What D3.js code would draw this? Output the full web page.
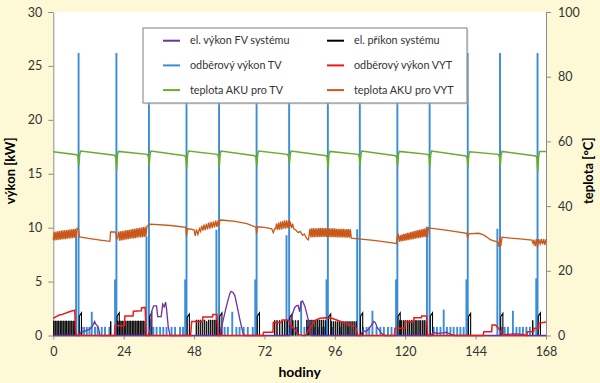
<!DOCTYPE html>
<html>
<head>
<meta charset="utf-8">
<script src="https://cdn.jsdelivr.net/npm/d3@7"></script>
<style>
  body { margin: 0; background: #fdf9d6; }
  svg { display: block; font-family: Lato, "Open Sans", sans-serif; }
</style>
</head>
<body>
<div id="chart"></div>
<script>
//=========Data=========//
// hours of the week (0-168)
var xTicks = [0, 24, 48, 72, 96, 120, 144, 168];
var yTicksLeft = [0, 5, 10, 15, 20, 25, 30];
var yTicksRight = [0, 20, 40, 60, 80, 100];

// el. výkon FV systému [kW]
var pvPower = [
  [0, 0], [8.9, 0], [9.3, 0.3], [10.2, 0.35], [11.2, 0.45], [12.5, 0.6], [13.4, 0.9], [14.1, 1.3], [14.6, 1.0], [15.3, 0.8], [15.9, 0],
  [32.5, 0], [33.0, 0.6], [33.5, 2.2], [34.2, 2.75], [35.2, 2.75], [35.6, 1.75], [36.8, 1.75], [37.3, 2.9], [37.8, 2.65], [38.3, 3.1], [38.6, 2.5], [39.2, 0.8], [39.8, 0],
  [56.8, 0], [57.9, 1.4], [59.1, 2.8], [60.2, 3.9], [60.6, 4.1], [61.3, 4.0], [61.9, 3.7], [62.7, 2.7], [63.6, 1.5], [64.7, 0.2], [65.3, 0],
  [80.6, 0], [81.2, 1.7], [82.3, 2.6], [82.9, 2.75], [83.5, 2.8], [84.0, 2.2], [84.5, 3.1], [85.0, 3.2], [85.8, 2.7], [86.9, 1.5], [87.5, 0.6], [88.0, 0],
  [104.8, 0], [105.6, 0.5], [106.5, 0.35], [107.5, 0.6], [108.3, 0.9], [109.3, 1.3], [109.8, 1.2], [110.5, 0.7], [111.2, 0.5], [111.9, 0.2], [113.0, 0],
  [128.8, 0], [129.5, 0.3], [131.0, 0.2], [133.0, 0.25], [134.0, 0.3], [135.5, 0.1], [137.0, 0],
  [153.0, 0], [154.5, 0.1], [157.0, 0.15], [160.0, 0.1], [161.5, 0], [168, 0]
];

// odběrový výkon TV [kW] - short draw-offs: [hour, kW]
var tvDraw = [
  [7.75, 9.2], [8.6, 26.2], [9.7, 0.8], [10.5, 0.8], [11.4, 0.8], [12.3, 0.8], [13.1, 2.2], [14.2, 0.8], [15.1, 0.8], [16.5, 0.8], [17.6, 0.8], [19.1, 0.8],
  [21.05, 5.2], [21.5, 26.2],
  [31.75, 9.2], [32.6, 26.2], [33.2, 0.8], [34.1, 0.8], [35.2, 0.8], [36.4, 0.8], [37.5, 0.8], [38.6, 0.8], [40.3, 0.8], [41.5, 0.8], [43.2, 0.8], [44.2, 0.8],
  [44.95, 5.2], [45.4, 26.2],
  [55.6, 9.8], [56.5, 26.2], [57.2, 0.8], [58.4, 0.8], [59.5, 0.8], [61.0, 2.2], [62.4, 0.8], [63.5, 0.8], [64.9, 0.8], [66.3, 0.8], [68.0, 0.8],
  [68.85, 5.2], [69.3, 26.2],
  [79.5, 9.3], [80.4, 26.2], [81.0, 0.8], [81.9, 0.8], [83.0, 0.8], [84.5, 3.2], [85.6, 0.8], [86.8, 0.8], [88.9, 0.8], [90.2, 0.8], [91.6, 0.8], [92.5, 0.8],
  [93.15, 5.2], [93.6, 26.2], [95.0, 0.8], [97.8, 0.8], [100.5, 0.8],
  [103.6, 9.85], [104.5, 26.2], [105.6, 0.8], [106.8, 0.8], [107.7, 0.8], [108.8, 2.3], [110.2, 0.8], [111.5, 0.8], [112.7, 0.8], [114.1, 0.8], [115.3, 0.8],
  [116.85, 5.2], [117.3, 26.2],
  [127.4, 10.1], [128.3, 26.2], [129.7, 0.8], [130.8, 0.8], [132.0, 0.8], [133.1, 2.4], [134.2, 0.8], [135.4, 0.8], [136.5, 0.8], [137.7, 0.8], [138.8, 0.8], [139.9, 0.8],
  [140.85, 5.2], [141.3, 26.2],
  [151.4, 9.9], [152.3, 26.2], [152.9, 0.8], [153.9, 0.8], [155.0, 0.8], [156.7, 2.3], [157.9, 0.8], [159.0, 0.8], [160.1, 0.8], [161.3, 0.8], [162.5, 0.8],
  [164.65, 5.3], [165.1, 26.2]
];

// el. příkon systému [kW] - heat pump on-cycles: [hour, kW]
var hpCycles = [
  [0.1, 1.35], [0.65, 1.35], [1.2, 1.35], [1.75, 1.35], [2.3, 1.35], [2.85, 1.35], [3.4, 1.35], [3.95, 1.35], [4.5, 1.35], [5.05, 1.35], [5.6, 1.35], [6.15, 1.35], [6.7, 1.35], [7.25, 1.35],
  [19.5, 1.3],
  [21.9, 1.35], [22.45, 1.35], [23.0, 1.35], [23.55, 1.35], [24.1, 1.35], [24.65, 1.35], [25.2, 1.35], [25.75, 1.35], [26.3, 1.35], [26.85, 1.35], [27.4, 1.35], [27.95, 1.35], [28.5, 1.35], [29.05, 1.35], [29.6, 1.35], [30.15, 1.35], [30.7, 1.35], [31.25, 1.35],
  [48.7, 1.44], [49.4, 1.44], [50.1, 1.44], [50.8, 1.44], [51.5, 1.44], [52.2, 1.3], [52.9, 1.44], [53.6, 1.44], [54.3, 1.44], [55.0, 1.44], [55.7, 1.44],
  [75.4, 1.4], [76.2, 1.4], [77.1, 1.4], [78.0, 1.4], [78.8, 1.4], [79.7, 1.4], [81.6, 1.4], [82.5, 1.4], [83.4, 1.4],
  [86.4, 1.44], [87.1, 1.44], [87.8, 1.44], [88.5, 1.44], [89.2, 1.44], [89.9, 1.44], [90.6, 1.44], [91.3, 1.44], [92.0, 1.44], [92.7, 1.4],
  [94.8, 1.3], [95.5, 1.3], [96.2, 1.3], [96.9, 1.3], [97.6, 1.3], [98.3, 1.3], [99.0, 1.3], [99.7, 1.3], [100.4, 1.3], [101.1, 1.3], [101.8, 1.3], [102.5, 1.3], [103.2, 1.3],
  [118.1, 1.4], [118.7, 1.4], [119.4, 1.4], [120.0, 1.4], [120.7, 1.4], [121.3, 1.4], [122.0, 1.4], [122.6, 1.4], [123.3, 1.4], [123.9, 1.4], [124.6, 1.4], [125.2, 1.4], [125.9, 1.4], [126.5, 1.4], [127.1, 1.4],
  [163.4, 1.4]
];

// el. příkon systému [kW] - peaks after each hot water draw-off: [hour, kW]
var hpBoost = [
  [8.85, 2.1], [21.75, 2.1], [32.85, 2.1], [45.65, 2.0], [56.75, 2.1], [69.55, 2.1], [80.65, 2.0],
  [93.85, 2.0], [104.75, 2.1], [117.55, 2.1], [128.55, 2.1], [141.55, 2.05], [152.55, 2.05], [165.35, 2.1]
];

// odběrový výkon VYT [kW]
var heatDemand = [
  [0, 1.6], [1, 1.75], [2, 1.9], [3, 1.95], [4, 2.05], [5, 2.15], [6, 2.25], [7.3, 2.35], [7.6, 0.4], [7.9, 0],
  [20.9, 0], [21.0, 0.9], [24.3, 0.9], [24.4, 1.8], [27.2, 1.8], [27.3, 2.25], [30.0, 2.3], [30.1, 2.55], [31.3, 2.6], [31.7, 0],
  [46.8, 0], [47.2, 1.3], [50.9, 1.3], [51.0, 1.72], [54.3, 1.72], [54.4, 1.95], [55.8, 1.95], [56.2, 0],
  [71.5, 0], [71.7, 0.3], [74.9, 0.3], [75.0, 1.2], [77.8, 1.2], [78.0, 1.44], [80.2, 1.44], [81.0, 0.9], [82.5, 0.5], [83.5, 0.1], [85.0, 0],
  [86.0, 0], [87.0, 0.5], [88.3, 1.0], [89.3, 1.4], [90.9, 1.6], [92.9, 1.65], [95.0, 1.6], [98.0, 1.3], [101.0, 1.0], [103.1, 0.82], [103.8, 0],
  [116.3, 0], [116.5, 0.67], [119.9, 0.67], [120.0, 1.28], [122.9, 1.28], [123.0, 1.65], [125.5, 1.65], [125.6, 1.8], [127.3, 1.8], [127.6, 0],
  [146.6, 0], [146.8, 0.35], [149.5, 0.35], [149.6, 0.97], [150.8, 0.97], [152.0, 0.6], [153.2, 0],
  [161.5, 0], [161.6, 0.35], [163.8, 0.35], [163.9, 0.67], [165.5, 0.67], [165.6, 1.13], [168, 1.25]
];

// teplota AKU pro TV [°C]
var tankTV = [
  [0, 56.8], [8.0, 55.9], [8.4, 55.3], [8.7, 52.6], [9.0, 56.0], [9.3, 57.0],
  [20.9, 55.7], [21.3, 55.0], [21.6, 51.2], [21.9, 56.0], [22.2, 56.9],
  [32.0, 56.0], [32.4, 55.4], [32.7, 52.6], [33.0, 56.0], [33.3, 57.0],
  [44.8, 55.6], [45.2, 55.0], [45.5, 51.6], [45.8, 56.0], [46.1, 57.0],
  [55.9, 56.0], [56.3, 55.4], [56.6, 52.0], [56.9, 56.0], [57.2, 57.0],
  [68.7, 55.6], [69.1, 55.0], [69.4, 52.4], [69.7, 56.0], [70.0, 57.0],
  [79.8, 56.0], [80.2, 55.4], [80.5, 53.2], [80.8, 56.0], [81.1, 57.0],
  [93.0, 55.6], [93.4, 55.0], [93.7, 51.7], [94.0, 56.0], [94.3, 56.9],
  [103.9, 56.0], [104.3, 55.4], [104.6, 52.5], [104.9, 56.0], [105.2, 57.0],
  [116.7, 55.6], [117.1, 55.0], [117.4, 52.5], [117.7, 56.0], [118.0, 56.9],
  [127.7, 56.0], [128.1, 55.4], [128.4, 52.0], [128.7, 56.0], [129.0, 57.0],
  [140.7, 55.5], [141.1, 54.9], [141.4, 52.0], [141.7, 56.0], [142.0, 56.8],
  [151.7, 56.0], [152.1, 55.4], [152.4, 52.2], [152.7, 56.0], [153.0, 56.9],
  [164.5, 55.5], [164.9, 54.9], [165.2, 50.5], [165.5, 55.5], [165.8, 56.9], [168, 56.9]
];

// teplota AKU pro VYT [°C]
var tankVYT = [
  [0, 29.5], [0.3, 32.0], [0.6, 29.4], [0.9, 32.1], [1.2, 29.5], [1.5, 32.2], [1.8, 29.6], [2.1, 32.3], [2.4, 29.6], [2.7, 32.4], [3.0, 29.7], [3.3, 32.5],
  [3.6, 29.8], [3.9, 32.5], [4.2, 29.8], [4.5, 32.6], [4.8, 29.9], [5.1, 32.7], [5.4, 30.0], [5.7, 32.8], [6.0, 30.0], [6.3, 32.8], [6.6, 30.1], [6.9, 32.9],
  [7.2, 30.2], [7.5, 33.0], [7.8, 30.3], [8.1, 33.1], [8.6, 32.8], [8.9, 30.5],
  [12.0, 30.0], [16.0, 29.5], [19.3, 29.1], [19.5, 32.0], [21.0, 32.0], [21.4, 31.5], [21.6, 29.6], [22.0, 30.5],
  [22.3, 32.1], [22.6, 29.3], [22.9, 32.2], [23.2, 29.4], [23.5, 32.3], [23.8, 29.5], [24.1, 32.4], [24.4, 29.6], [24.7, 32.5], [25.0, 29.7], [25.3, 32.6],
  [25.6, 29.8], [25.9, 32.7], [26.2, 29.9], [26.5, 32.8], [26.8, 30.0], [27.1, 32.9], [27.4, 30.0], [27.7, 33.0], [28.0, 30.1], [28.3, 33.1], [28.6, 30.2],
  [28.9, 33.2], [29.2, 30.3], [29.5, 33.3], [29.8, 30.3], [30.1, 33.4], [30.4, 30.4], [30.7, 33.5], [31.0, 30.5], [31.3, 33.6], [31.6, 30.6], [31.9, 33.7],
  [32.6, 34.3], [33.0, 34.4], [40.0, 34.0], [45.2, 33.4], [45.4, 30.6], [45.7, 33.0], [47.0, 32.9], [48.0, 32.6],
  [48.4, 30.8], [48.8, 32.8], [49.3, 31.2], [49.8, 33.0], [50.2, 32.2], [50.6, 33.9], [51.0, 32.4], [51.4, 34.3], [51.8, 32.6], [52.2, 34.6], [52.6, 32.8],
  [53.0, 34.9], [53.4, 33.0], [53.8, 35.1], [54.2, 33.2], [54.6, 35.3], [55.0, 33.4], [55.4, 35.5], [55.8, 33.6], [56.2, 35.6], [56.5, 33.9], [56.8, 35.6],
  [57.2, 35.7], [62.0, 35.3], [66.0, 34.6], [69.1, 33.5], [69.3, 31.4], [69.6, 33.6], [72.0, 33.4], [74.5, 33.0], [75.0, 31.8], [75.5, 33.0],
  [75.8, 33.0], [76.1, 34.6], [76.5, 32.6], [76.8, 34.9], [77.2, 32.7], [77.5, 35.2], [77.9, 32.8], [78.2, 35.4], [78.6, 33.0], [78.9, 35.6], [79.3, 33.0],
  [79.6, 35.6], [80.0, 33.2], [80.3, 35.7], [80.5, 33.5], [80.8, 35.2], [81.2, 33.2], [81.6, 34.6], [82.0, 33.0], [82.7, 32.6], [83.5, 31.8], [84.2, 32.2],
  [85.0, 31.0], [85.6, 31.4], [86.4, 30.0], [87.0, 29.6],
  [87.5, 33.0], [87.8, 30.3], [88.1, 33.1], [88.4, 30.4], [88.7, 33.1], [89.0, 30.4], [89.3, 33.1], [89.6, 30.4], [89.9, 33.1], [90.2, 30.4], [90.5, 33.2],
  [90.8, 30.5], [91.1, 33.2], [91.4, 30.5], [91.7, 33.2], [92.0, 30.5], [92.3, 33.2], [92.6, 30.5], [92.9, 33.2], [93.2, 30.5], [93.5, 33.2], [93.8, 30.4],
  [94.1, 33.1], [94.4, 30.4], [94.7, 33.1], [95.0, 30.4], [95.3, 33.1], [95.6, 30.4], [95.9, 33.1], [96.2, 30.4], [96.5, 33.0], [96.8, 30.3], [97.1, 33.0],
  [97.4, 30.3], [97.7, 33.0], [98.0, 30.3], [98.3, 33.0], [98.6, 30.3], [98.9, 33.0], [99.2, 30.3], [99.5, 32.9], [99.8, 30.2], [100.1, 32.9], [100.4, 30.2],
  [100.7, 32.9], [101.0, 30.2], [101.3, 32.8], [101.6, 30.1],
  [105.0, 29.8], [110.0, 29.3], [116.8, 28.5], [117.0, 28.4], [117.3, 30.8], [117.6, 31.2],
  [118.0, 29.0], [118.3, 31.0], [118.6, 29.1], [118.9, 31.2], [119.2, 29.2], [119.5, 31.4], [119.8, 29.3], [120.1, 31.5], [120.4, 29.4], [120.7, 31.7],
  [121.0, 29.5], [121.3, 31.8], [121.6, 29.6], [121.9, 32.0], [122.2, 29.7], [122.5, 32.1], [122.8, 29.8], [123.1, 32.3], [123.4, 29.9], [123.7, 32.4],
  [124.0, 30.0], [124.3, 32.6], [124.6, 30.1], [124.9, 32.7], [125.2, 30.2], [125.5, 32.8], [125.8, 30.3], [126.1, 33.0], [126.4, 30.4], [126.7, 33.1],
  [127.0, 30.5], [127.3, 33.2], [127.6, 30.5], [127.9, 33.3], [128.3, 33.2],
  [128.6, 33.2], [135.0, 32.4], [141.0, 31.6], [141.3, 30.0], [141.6, 31.4], [145.0, 31.6], [146.5, 31.2], [147.7, 30.5], [149.0, 29.6], [150.5, 29.2],
  [151.6, 28.9], [152.0, 27.4], [152.3, 30.4], [152.6, 27.6], [153.0, 30.4], [156.0, 30.1], [160.0, 29.8], [163.2, 29.5], [163.6, 28.4], [163.9, 29.6],
  [164.3, 27.6], [164.7, 29.8], [165.1, 27.2], [165.5, 29.8], [166.0, 28.3], [166.4, 29.9], [166.8, 28.2], [167.2, 29.8], [167.6, 28.0], [168, 29.8]
];

// legend (Excel order: two columns)
var legendNames = ["el. výkon FV systému", "odběrový výkon TV", "teplota AKU pro TV",
                   "el. příkon systému", "odběrový výkon VYT", "teplota AKU pro VYT"];
var legendColors = ["#7030a0", "#3b8dd6", "#6aac2c", "#000000", "#f01818", "#c9581a"];

//=========Define SVG Area and Margins=========//
var svgWidth = 600;
var svgHeight = 383;

var margin = {
  top: 12,
  right: 54,
  bottom: 47.5,
  left: 53.3
};

var width = svgWidth - margin.left - margin.right;
var height = svgHeight - margin.top - margin.bottom;

var svg = d3
  .select("#chart")
  .append("svg")
  .attr("width", svgWidth)
  .attr("height", svgHeight);

svg.append("rect")
  .attr("width", svgWidth)
  .attr("height", svgHeight)
  .attr("fill", "#fdf9d6");

var chartGroup = svg
  .append("g")
  .attr("transform", `translate(${margin.left}, ${margin.top})`);

// plot area
chartGroup.append("rect")
  .attr("width", width)
  .attr("height", height)
  .attr("fill", "#ffffff");

//======Scales======//
var xLinearScale = d3.scaleLinear().domain([0, 168]).range([0, width]);
var yLeftScale = d3.scaleLinear().domain([0, 30]).range([height, 0]);
var yRightScale = d3.scaleLinear().domain([0, 100]).range([height, 0]);

//======Series======//
var plot = chartGroup.append("g");

// hot water draw-offs (blue pulses)
plot.selectAll("rect.tv")
  .data(tvDraw)
  .enter()
  .append("rect")
  .attr("class", "tv")
  .attr("x", (d) => xLinearScale(d[0]) - 0.9)
  .attr("width", 1.9)
  .attr("y", (d) => yLeftScale(d[1]))
  .attr("height", (d) => height - yLeftScale(d[1]))
  .attr("fill", "#3b8dd6");

// heat pump cycles (black)
function pulsePath(data, widthH, slant) {
  var p = "";
  data.forEach(function (d) {
    var x0 = xLinearScale(d[0]);
    var x1 = xLinearScale(d[0] + widthH);
    var y0 = yLeftScale(0);
    var yTop = yLeftScale(d[1]);
    var ySide = yLeftScale(d[1] * slant);
    p += `M${x0},${y0}V${ySide}L${x1},${yTop}V${y0}`;
  });
  return p;
}

plot.append("path")
  .attr("d", pulsePath(hpCycles, 0.16, 1))
  .attr("fill", "none")
  .attr("stroke", "#000")
  .attr("stroke-width", 0.9);

plot.append("path")
  .attr("d", pulsePath(hpBoost, 0.75, 0.85))
  .attr("fill", "none")
  .attr("stroke", "#000")
  .attr("stroke-width", 1.1);

var lineLeft = d3.line()
  .x((d) => xLinearScale(d[0]))
  .y((d) => yLeftScale(d[1]));

var lineRight = d3.line()
  .x((d) => xLinearScale(d[0]))
  .y((d) => yRightScale(d[1]));

plot.append("path")
  .datum(pvPower)
  .attr("d", lineLeft)
  .attr("fill", "none")
  .attr("stroke", "#7030a0")
  .attr("stroke-width", 1.3);

plot.append("path")
  .datum(heatDemand)
  .attr("d", lineLeft)
  .attr("fill", "none")
  .attr("stroke", "#f01818")
  .attr("stroke-width", 1.5);

plot.append("path")
  .datum(tankTV)
  .attr("d", lineRight)
  .attr("fill", "none")
  .attr("stroke", "#6aac2c")
  .attr("stroke-width", 1.5);

plot.append("path")
  .datum(tankVYT)
  .attr("d", lineRight)
  .attr("fill", "none")
  .attr("stroke", "#c9581a")
  .attr("stroke-width", 1.3);

//======Axes======//
var bottomAxis = d3.axisBottom(xLinearScale).tickValues(xTicks).tickSize(4).tickSizeOuter(0).tickPadding(8);
var leftAxis = d3.axisLeft(yLeftScale).tickValues(yTicksLeft).tickSize(5).tickSizeOuter(0).tickPadding(6);
var rightAxis = d3.axisRight(yRightScale).tickValues(yTicksRight).tickSize(5).tickSizeOuter(0).tickPadding(7);

var xAxis = chartGroup.append("g")
  .attr("transform", `translate(0, ${height})`)
  .call(bottomAxis);

var yAxisL = chartGroup.append("g").call(leftAxis);

var yAxisR = chartGroup.append("g")
  .attr("transform", `translate(${width}, 0)`)
  .call(rightAxis);

[xAxis, yAxisL, yAxisR].forEach(function (ax) {
  ax.selectAll("path, line").attr("stroke", "#8c8c8c");
  ax.selectAll("text")
    .attr("fill", "#333")
    .style("font-size", "12.5px")
    .style("font-family", "Lato, 'Open Sans', sans-serif");
});

// red zero line of VYT demand lies on the x axis
plot.raise();

// axis titles
chartGroup.append("text")
  .attr("transform", "rotate(-90)")
  .attr("x", -height / 2 + 3)
  .attr("y", -38)
  .attr("text-anchor", "middle")
  .style("font-size", "13px")
  .style("font-weight", "bold")
  .text("výkon [kW]");

chartGroup.append("text")
  .attr("transform", "rotate(-90)")
  .attr("x", -height / 2 + 3)
  .attr("y", width + 47)
  .attr("text-anchor", "middle")
  .style("font-size", "13px")
  .style("font-weight", "bold")
  .text("teplota [°C]");

chartGroup.append("text")
  .attr("x", width / 2)
  .attr("y", height + 41)
  .attr("text-anchor", "middle")
  .style("font-size", "14px")
  .style("font-weight", "bold")
  .text("hodiny");

//======Legend======//
var legend = svg.append("g").attr("transform", "translate(143, 28)");

legend.append("rect")
  .attr("x", 1.5)
  .attr("y", 1.5)
  .attr("width", 324)
  .attr("height", 75)
  .attr("fill", "#c8c8c8")
  .attr("opacity", 0.5);

legend.append("rect")
  .attr("width", 324)
  .attr("height", 75)
  .attr("fill", "#fff")
  .attr("stroke", "#7f7f7f")
  .attr("stroke-width", 1);

var items = legend.selectAll("g.item")
  .data(legendNames)
  .enter()
  .append("g")
  .attr("class", "item")
  .attr("transform", (d, i) => `translate(${i < 3 ? 20 : 184}, ${12.7 + (i % 3) * 24.7})`);

items.append("line")
  .attr("x1", 0)
  .attr("x2", 17)
  .attr("stroke", (d, i) => legendColors[i])
  .attr("stroke-width", 2);

items.append("text")
  .attr("x", 27)
  .attr("dy", "0.35em")
  .attr("fill", "#333")
  .style("font-size", "10.8px")
  .text((d) => d);
</script>
</body>
</html>
